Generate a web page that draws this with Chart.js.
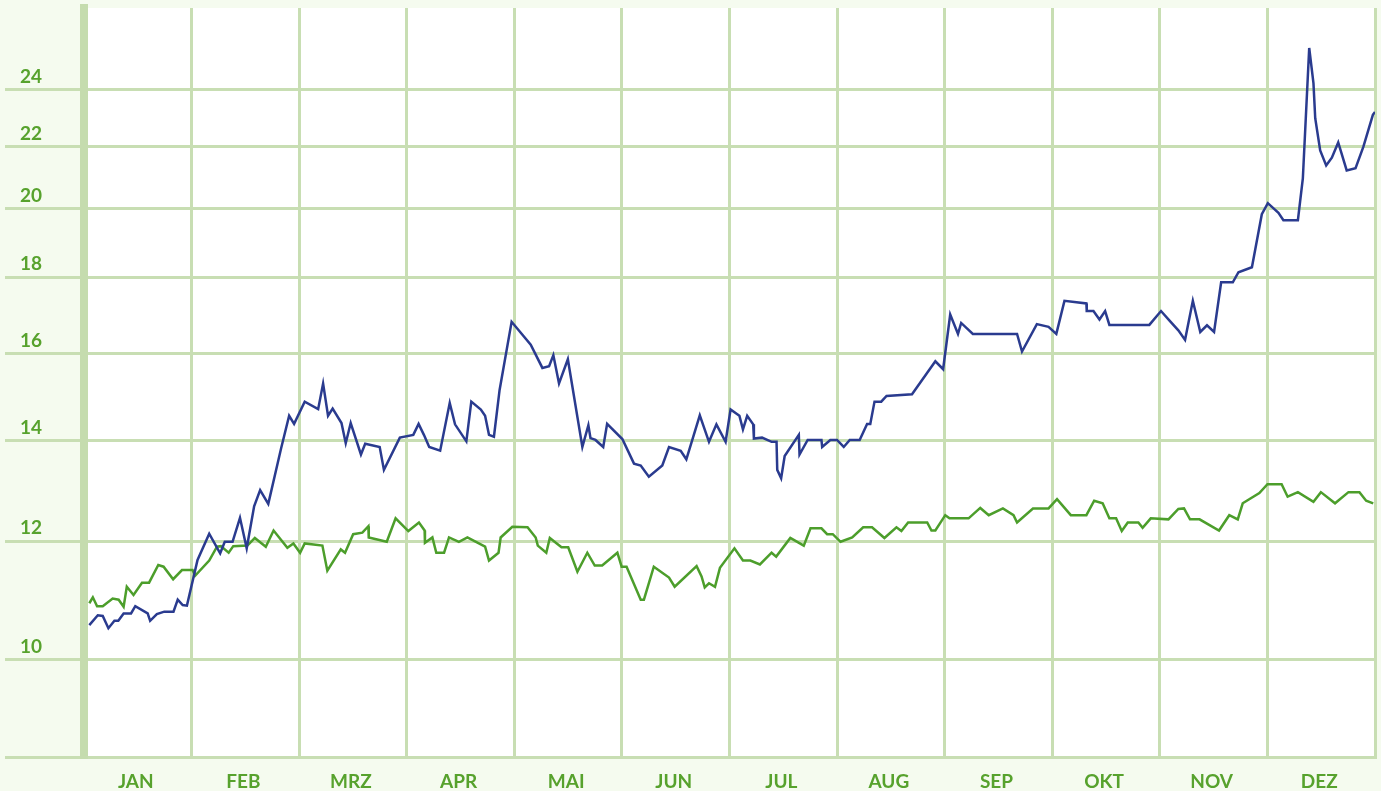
<!DOCTYPE html>
<html>
<head>
<meta charset="utf-8">
<script src="https://cdn.jsdelivr.net/npm/chart.js@4"></script>
<style>
html, body { margin: 0; padding: 0; background: #f5fbef; }
canvas { display: block; }
</style>
</head>
<body>
<canvas id="chart" width="1381" height="791"></canvas>
<script>
const months = ['JAN', 'FEB', 'MRZ', 'APR', 'MAI', 'JUN', 'JUL', 'AUG', 'SEP', 'OKT', 'NOV', 'DEZ'];
const yTicks = [10, 12, 14, 16, 18, 20, 22, 24];
const yMin = 8.615;
const yMax = 27.22;

// day of year -> value
const blueDays = [1.5,3.9,5.3,6.9,8.6,9.7,11.2,13.3,14.5,18.0,
  18.7,20.6,22.7,25.3,26.5,27.9,29.1,32.1,35.4,38.5,
  39.8,42.0,44.1,46.0,48.1,49.8,52.1,55.7,58.0,59.4,
  62.4,66.2,67.6,69.0,70.3,72.8,74.0,75.4,78.3,79.5,
  83.6,84.8,89.3,93.1,94.6,96.1,97.6,100.7,103.4,104.9,
  108.1,109.5,112.2,113.4,114.5,115.9,117.5,120.9,126.3,129.6,
  131.5,132.7,134.3,136.8,140.9,142.6,143.2,144.6,146.8,147.9,
  152.2,155.5,157.4,159.7,163.5,165.4,168.7,170.3,174.1,176.7,
  178.8,181.4,182.8,185.3,186.3,187.5,189.2,189.4,191.7,194.4,
  195.8,196.0,197.1,198.1,202.1,202.3,204.6,208.5,208.7,211.0,
  212.9,214.8,216.5,219.3,221.4,222.3,223.5,225.4,226.9,234.1,
  240.7,242.9,244.9,247.1,248.0,251.3,263.8,265.2,269.4,272.7,
  274.9,277.2,283.4,283.5,285.4,287.1,288.7,289.9,301.2,304.5,
  307.1,309.4,311.3,313.5,315.6,317.5,319.5,321.5,324.8,326.4,
  330.2,333.0,334.7,337.7,339.1,343.2,344.6,346.4,347.6,348.1,
  349.5,351.2,352.8,354.6,357.0,359.5,361.7,364.4,365];
const blueValues = [10.55,10.71,10.70,10.50,10.62,10.62,10.74,10.74,10.86,10.74,
  10.62,10.73,10.77,10.77,10.97,10.88,10.87,11.66,12.14,11.78,
  11.99,11.99,12.44,11.87,12.66,12.98,12.71,13.83,14.55,14.37,
  14.87,14.70,15.29,14.55,14.71,14.39,13.95,14.39,13.71,13.94,
  13.87,13.39,14.07,14.13,14.37,14.13,13.87,13.79,14.84,14.36,
  13.99,14.87,14.69,14.55,14.13,14.09,15.14,16.81,16.23,15.66,
  15.70,15.97,15.29,15.87,13.87,14.34,14.06,14.02,13.87,14.37,
  14.04,13.52,13.48,13.25,13.48,13.87,13.79,13.61,14.56,13.98,
  14.36,13.98,14.69,14.55,14.25,14.55,14.36,14.05,14.07,13.98,
  13.98,13.39,13.22,13.68,14.13,13.71,14.02,14.02,13.87,14.02,
  14.02,13.87,14.02,14.02,14.37,14.37,14.87,14.87,15.0,15.04,
  15.82,15.63,17.0,16.50,16.78,16.50,16.50,16.06,16.75,16.68,
  16.50,17.36,17.29,17.09,17.09,16.87,17.09,16.73,16.73,17.09,
  16.82,16.59,16.35,17.36,16.55,16.72,16.55,17.86,17.86,18.14,
  18.28,19.83,20.17,19.87,19.65,19.65,20.95,25.6,24.25,22.98,
  21.87,21.37,21.63,22.14,21.21,21.28,21.99,23.1,23.2];

const greenDays = [1.5,2.5,3.7,5.3,8.1,9.8,11.2,12.1,14.0,16.4,
  18.4,21.0,22.5,25.2,27.7,30.7,31.4,35.4,37.6,38.7,
  40.9,42.2,46.2,48.3,51.4,53.6,57.5,59.2,61.1,62.4,
  67.4,68.8,72.6,73.8,76.1,78.7,80.4,80.5,85.6,88.1,
  91.7,94.7,96.3,96.4,98.5,99.6,101.8,103.2,106.0,108.4,
  113.4,114.5,117.2,117.8,121.1,125.4,127.7,128.3,130.7,131.7,
  135.0,136.9,139.5,142.3,144.4,146.5,150.8,152.0,153.4,157.4,
  158.3,161.1,165.4,167.0,173.2,174.6,175.5,176.7,178.4,179.8,
  183.9,186.3,188.4,191.1,194.4,195.7,199.7,203.5,205.4,208.5,
  210.1,211.7,213.9,217.2,220.3,222.8,226.3,229.7,231.1,233.0,
  238.4,239.6,240.7,243.5,244.7,250.1,253.4,255.8,259.8,262.8,
  263.8,268.3,272.7,275.1,279.0,283.4,285.6,288.0,289.9,291.8,
  293.4,295.1,298.1,299.3,301.6,306.6,309.4,311.0,312.7,315.4,
  320.9,323.8,326.2,327.6,332.3,334.6,338.6,340.3,343.2,347.6,
  349.7,353.7,357.5,360.6,362.5,364.5];
const greenValues = [10.91,11.01,10.86,10.86,10.99,10.97,10.85,11.19,11.05,11.26,
  11.26,11.57,11.54,11.32,11.48,11.48,11.38,11.65,11.90,11.91,
  11.79,11.91,11.92,12.06,11.90,12.20,11.88,11.96,11.79,11.96,
  11.92,11.47,11.85,11.79,12.13,12.16,12.28,12.07,11.99,12.43,
  12.19,12.35,12.20,11.97,12.07,11.79,11.79,12.07,11.99,12.07,
  11.90,11.65,11.79,12.07,12.27,12.26,12.07,11.92,11.79,12.06,
  11.89,11.89,11.45,11.79,11.56,11.56,11.79,11.54,11.54,10.97,
  10.97,11.54,11.35,11.19,11.55,11.37,11.18,11.25,11.19,11.52,
  11.87,11.65,11.65,11.58,11.79,11.72,12.06,11.92,12.24,12.24,
  12.13,12.13,11.99,12.07,12.26,12.26,12.06,12.26,12.19,12.35,
  12.35,12.20,12.20,12.49,12.43,12.43,12.63,12.49,12.62,12.49,
  12.35,12.62,12.62,12.80,12.49,12.49,12.77,12.72,12.43,12.43,
  12.19,12.35,12.35,12.25,12.43,12.41,12.61,12.62,12.41,12.41,
  12.20,12.49,12.41,12.72,12.92,13.10,13.10,12.85,12.94,12.75,
  12.94,12.72,12.94,12.94,12.77,12.72];

const gridColor = '#c8deb3';
const labelColor = '#57a22d';
const tickFont = { family: 'Lato', weight: 'bold', size: 19 };

function points(xs, ys) {
    return xs.map((x, i) => ({ x: x, y: ys[i] }));
}

// light green page, white plot area
const background = {
    id: 'background',
    beforeDraw(chart) {
        const { ctx, chartArea: a } = chart;
        ctx.save();
        ctx.fillStyle = '#f5fbef';
        ctx.fillRect(0, 0, chart.width, chart.height);
        ctx.fillStyle = '#ffffff';
        ctx.fillRect(a.left, a.top, a.right - a.left, a.bottom - a.top);
        ctx.restore();
    }
};

const ctx = document.getElementById('chart').getContext('2d');
const myChart = new Chart(ctx, {
    type: 'line',
    data: {
        datasets: [{
            data: points(blueDays, blueValues),
            borderColor: '#2a3b8f',
            borderWidth: 2.5,
            pointRadius: 0,
            xAxisID: 'xd',
            yAxisID: 'y'
        }, {
            data: points(greenDays, greenValues),
            borderColor: '#4c9e2b',
            borderWidth: 2.5,
            pointRadius: 0,
            xAxisID: 'xd',
            yAxisID: 'y'
        }]
    },
    options: {
        responsive: false,
        animation: false,
        layout: { padding: { top: 8, right: 6, left: 5, bottom: 0 } },
        plugins: { legend: { display: false }, tooltip: { enabled: false } },
        scales: {
            x: {
                type: 'category',
                labels: months,
                offset: true,
                position: 'bottom',
                grid: { offset: true, color: gridColor, lineWidth: 3, drawTicks: false },
                border: { color: gridColor, width: 3 },
                ticks: { color: labelColor, font: tickFont, padding: 13, labelOffset: -2, maxRotation: 0, autoSkip: false },
                afterFit(s) { s.height = 34; s.paddingLeft = 0; s.paddingRight = 0; }
            },
            xd: { type: 'linear', min: 0, max: 365, display: false },
            y: {
                type: 'logarithmic',
                min: yMin,
                max: yMax,
                position: 'left',
                grid: { color: gridColor, lineWidth: 3, tickLength: 79 },
                border: { color: '#c5dcae', width: 8 },
                afterBuildTicks(s) {
                    s.ticks = [yMin].concat(yTicks).map(v => ({ value: v }));
                },
                ticks: {
                    color: labelColor,
                    font: tickFont,
                    padding: -37,
                    labelOffset: -13,
                    callback: v => yTicks.includes(v) ? String(v) : ''
                },
                afterFit(s) { s.width = 79; s.paddingTop = 0; s.paddingBottom = 0; }
            }
        }
    },
    plugins: [background]
});
</script>
</body>
</html>
